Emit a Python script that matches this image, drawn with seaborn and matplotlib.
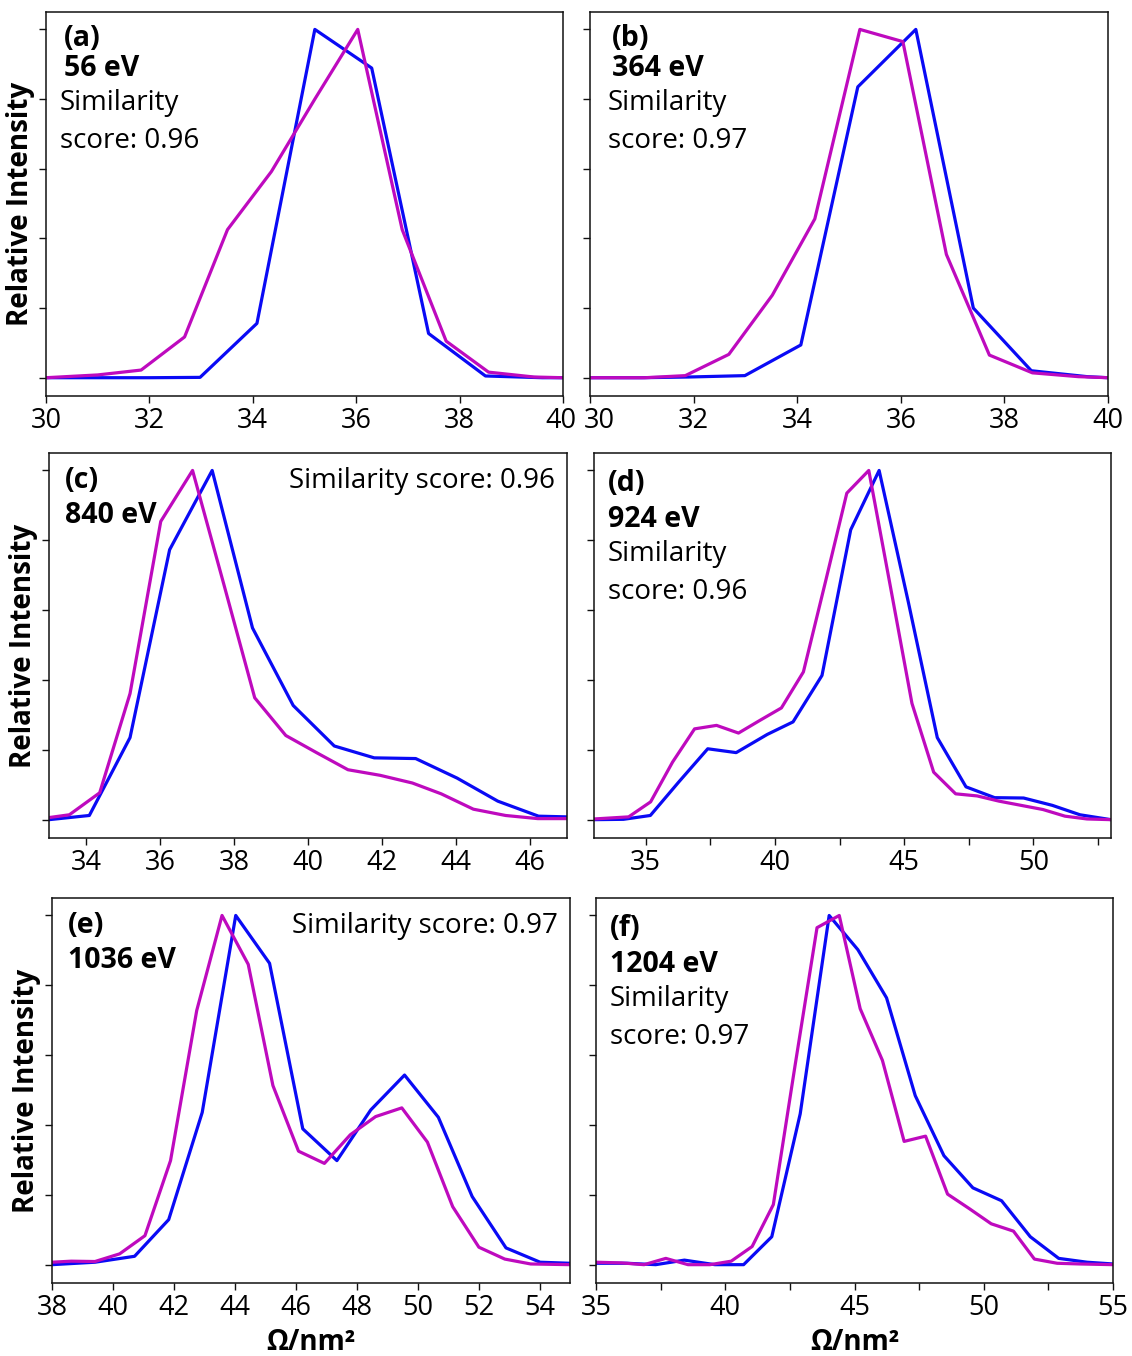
import numpy as np
import pandas as pd
import matplotlib
matplotlib.use("Agg")
import matplotlib.pyplot as plt
import matplotlib.transforms as mtransforms
import seaborn as sns

# ---------------- data ----------------
a_blue_x = [30, 31, 32, 32.98, 34.08, 35.2, 36.3, 37.4, 38.5, 39.6, 40]
a_blue_y = [0, 0, 0, 0.001, 0.156, 1.0, 0.889, 0.127, 0.005, 0.0, 0]
a_mag_x = [30, 31.0, 31.84, 32.68, 33.51, 34.36, 35.2, 36.03, 36.89, 37.74, 38.56, 39.44, 40]
a_mag_y = [0, 0.008, 0.022, 0.117, 0.425, 0.592, 0.80, 1.0, 0.425, 0.105, 0.016, 0.002, 0]

b_blue_x = [30, 31.0, 31.9, 32.99, 34.07, 35.17, 36.29, 37.4, 38.52, 39.6, 40]
b_blue_y = [0, 0, 0.002, 0.006, 0.094, 0.835, 1.0, 0.2, 0.02, 0.003, 0]
b_mag_x = [30, 31.06, 31.84, 32.68, 33.52, 34.34, 35.21, 36.04, 36.88, 37.71, 38.54, 39.43, 40]
b_mag_y = [0, 0, 0.006, 0.067, 0.237, 0.456, 1.0, 0.965, 0.354, 0.065, 0.014, 0.003, 0]

c_blue_x = [33, 34.09, 35.19, 36.26, 37.41, 38.5, 39.6, 40.71, 41.79, 42.91, 44.03, 45.13, 46.23, 47]
c_blue_y = [0, 0.012, 0.235, 0.773, 1.0, 0.549, 0.327, 0.211, 0.177, 0.175, 0.119, 0.053, 0.010, 0.008]
c_mag_x = [33, 33.55, 34.37, 35.19, 36.02, 36.88, 37.72, 38.56, 39.4, 40.23, 41.08, 41.95,
           42.82, 43.6, 44.47, 45.34, 46.21, 47]
c_mag_y = [0.006, 0.014, 0.077, 0.361, 0.854, 1.0, 0.676, 0.349, 0.241, 0.192, 0.143, 0.127,
           0.105, 0.074, 0.030, 0.012, 0.003, 0.003]

d_blue_x = [33, 34.14, 35.18, 36.28, 37.4, 38.5, 39.7, 40.7, 41.82, 42.93, 44.03, 45.16,
            46.28, 47.39, 48.5, 49.62, 50.73, 51.8, 53]
d_blue_y = [0, 0.001, 0.012, 0.108, 0.203, 0.192, 0.244, 0.28, 0.413, 0.83, 1.0, 0.623,
            0.235, 0.094, 0.063, 0.062, 0.041, 0.014, 0]
d_mag_x = [33, 34.34, 35.19, 36.04, 36.89, 37.74, 38.59, 39.41, 40.25, 41.1, 41.95, 42.78,
           43.63, 44.47, 45.3, 46.14, 46.99, 47.82, 48.67, 49.52, 50.37, 51.22, 52.07, 53]
d_mag_y = [0.002, 0.008, 0.051, 0.165, 0.26, 0.27, 0.248, 0.284, 0.32, 0.423, 0.68, 0.935,
           1.0, 0.666, 0.333, 0.136, 0.074, 0.068, 0.053, 0.041, 0.029, 0.01, 0.002, 0]

e_blue_x = [38, 39.41, 40.71, 41.83, 42.93, 44.03, 45.14, 46.23, 47.35, 48.46, 49.57, 50.68,
            51.79, 52.9, 54.02, 55]
e_blue_y = [0, 0.007, 0.024, 0.129, 0.436, 1.0, 0.863, 0.389, 0.298, 0.443, 0.543, 0.422,
            0.195, 0.048, 0.007, 0.004]
e_mag_x = [38, 38.63, 39.41, 40.22, 41.05, 41.89, 42.75, 43.58, 44.44, 45.25, 46.09, 46.94,
           47.79, 48.62, 49.48, 50.32, 51.15, 52.01, 52.86, 53.71, 55]
e_mag_y = [0.007, 0.01, 0.009, 0.031, 0.083, 0.298, 0.728, 1.0, 0.86, 0.513, 0.325, 0.29,
           0.372, 0.424, 0.449, 0.351, 0.166, 0.05, 0.016, 0.002, 0]

f_blue_x = [35, 36.2, 37.31, 38.42, 39.6, 40.71, 41.8, 42.9, 44.02, 45.13, 46.24, 47.35,
            48.46, 49.58, 50.69, 51.8, 52.9, 54.0, 55]
f_blue_y = [0.004, 0.004, 0, 0.013, 0, 0, 0.08, 0.432, 1.0, 0.902, 0.764, 0.484,
            0.312, 0.22, 0.183, 0.08, 0.018, 0.007, 0.002]
f_mag_x = [35, 36.0, 36.86, 37.7, 38.56, 39.41, 40.23, 41.04, 41.86, 42.7, 43.55, 44.41,
           45.22, 46.08, 46.92, 47.75, 48.6, 49.45, 50.29, 51.15, 51.96, 52.84, 53.72, 55]
f_mag_y = [0.007, 0.005, 0, 0.018, 0, 0, 0.01, 0.052, 0.172, 0.57, 0.965, 1.0,
           0.733, 0.585, 0.353, 0.368, 0.202, 0.16, 0.117, 0.096, 0.016, 0.004, 0.002, 0]

panel_labels = ["(a)", "(b)", "(c)", "(d)", "(e)", "(f)"]
energies = ["56 eV", "364 eV", "840 eV", "924 eV", "1036 eV", "1204 eV"]
scores = ["0.96", "0.97", "0.96", "0.96", "0.97", "0.97"]
xlims = [(30, 40), (30, 40), (33, 47), (33, 53), (38, 55), (35, 55)]
xticks_list = [list(range(30, 41, 2)), list(range(30, 41, 2)), list(range(34, 47, 2)),
               list(np.arange(35, 53, 2.5)), list(range(38, 55, 2)), list(np.arange(35, 55.1, 2.5))]
y_ticks = [0, 0.2, 0.4, 0.6, 0.8, 1.0]
x_label = "Ω/nm²"
y_label = "Relative Intensity"

series = [
    (a_blue_x, a_blue_y, a_mag_x, a_mag_y),
    (b_blue_x, b_blue_y, b_mag_x, b_mag_y),
    (c_blue_x, c_blue_y, c_mag_x, c_mag_y),
    (d_blue_x, d_blue_y, d_mag_x, d_mag_y),
    (e_blue_x, e_blue_y, e_mag_x, e_mag_y),
    (f_blue_x, f_blue_y, f_mag_x, f_mag_y),
]

# ---------------- style ----------------
sns.set_theme(style="ticks")
plt.rcParams["font.family"] = ["Open Sans", "DejaVu Sans"]
plt.rcParams["axes.edgecolor"] = "#111111"
plt.rcParams["axes.linewidth"] = 1.1
plt.rcParams["text.color"] = "black"
plt.rcParams["axes.labelcolor"] = "black"
plt.rcParams["xtick.color"] = "#111111"
plt.rcParams["ytick.color"] = "#111111"
plt.rcParams["xtick.labelcolor"] = "black"

BLUE = "#0A0AF5"
MAG = "#BE0ABE"
palette = {"exp": BLUE, "sim": MAG}

W, H = 1132, 1356
fig = plt.figure(figsize=(W / 100, H / 100), dpi=100)

# pixel boxes: left, right, top, bottom
boxes = [
    (46, 563, 12, 396), (590, 1108, 12, 396),
    (49, 567, 453, 838), (594, 1111, 453, 838),
    (52, 570, 898, 1283), (596, 1113, 898, 1283),
]

FS = 19.5      # tick labels
FT = 20.0      # annotation text
FB = 20.5      # bold annotation
axes = []
for i, (bx, by, mx, my) in enumerate(series):
    l, r, t, b = boxes[i]
    ax = fig.add_axes([l / W, 1 - b / H, (r - l) / W, (b - t) / H])
    axes.append(ax)
    df = pd.concat([
        pd.DataFrame({"x": bx, "y": by, "s": "exp"}),
        pd.DataFrame({"x": mx, "y": my, "s": "sim"}),
    ], ignore_index=True)
    sns.lineplot(data=df, x="x", y="y", hue="s", palette=palette, estimator=None,
                 sort=False, units="s", legend=False, linewidth=2.3, ax=ax)
    ax.set_xlim(*xlims[i])
    ax.set_ylim(-0.0525, 1.05)
    ax.set_yticks(y_ticks)
    ax.set_yticklabels([])
    ax.set_xticks(xticks_list[i])
    if i in (3, 5):
        ax.set_xticklabels([f"{v:g}" if float(v) % 5 == 0 else "" for v in xticks_list[i]])
    else:
        ax.set_xticklabels([f"{v:g}" for v in xticks_list[i]])
    ax.tick_params(axis="both", direction="out", length=5, width=1.0,
                   labelsize=FS, pad=3)
    ax.set_xlabel("")
    ax.set_ylabel("")
    for sp in ax.spines.values():
        sp.set_visible(True)

    lab = panel_labels[i]
    en = energies[i]
    sc = scores[i]
    if i in (0, 1):
        x0 = 0.035 if i == 0 else 0.042
        ax.text(x0, 0.932, lab, transform=ax.transAxes, fontsize=FB, fontweight="bold",
                va="center", ha="left")
        ax.text(x0, 0.852, en, transform=ax.transAxes, fontsize=FB, fontweight="bold",
                va="center", ha="left")
        ax.text(x0 - 0.008, 0.762, "Similarity", transform=ax.transAxes, fontsize=FT,
                va="center", ha="left")
        ax.text(x0 - 0.008, 0.665, "score: " + sc, transform=ax.transAxes, fontsize=FT,
                va="center", ha="left")
    elif i in (2, 4):
        ax.text(0.03, 0.928, lab, transform=ax.transAxes, fontsize=FB, fontweight="bold",
                va="center", ha="left")
        ax.text(0.03, 0.838, en, transform=ax.transAxes, fontsize=FB, fontweight="bold",
                va="center", ha="left")
        ax.text(0.976, 0.927, "Similarity score: " + sc, transform=ax.transAxes,
                fontsize=FT, va="center", ha="right")
    else:
        ax.text(0.027, 0.92, lab, transform=ax.transAxes, fontsize=FB, fontweight="bold",
                va="center", ha="left")
        ax.text(0.027, 0.826, en, transform=ax.transAxes, fontsize=FB, fontweight="bold",
                va="center", ha="left")
        ax.text(0.027, 0.737, "Similarity", transform=ax.transAxes, fontsize=FT,
                va="center", ha="left")
        ax.text(0.027, 0.640, "score: " + sc, transform=ax.transAxes, fontsize=FT,
                va="center", ha="left")

    if i in (0, 2, 4):
        ax.set_ylabel(y_label, fontsize=FT, fontweight="bold", labelpad=0)
    if i in (4, 5):
        ax.set_xlabel(x_label, fontsize=FT, fontweight="bold", labelpad=4)

# nudge the touching "40" | "30" labels between panels (a) and (b) apart
fig.canvas.draw()
lbl_a = axes[0].get_xticklabels()[-1]
lbl_b = axes[1].get_xticklabels()[0]
lbl_a.set_transform(lbl_a.get_transform() +
                    mtransforms.ScaledTranslation(-2 / 100, 0, fig.dpi_scale_trans))
lbl_b.set_transform(lbl_b.get_transform() +
                    mtransforms.ScaledTranslation(9 / 100, 0, fig.dpi_scale_trans))

fig.savefig("out.png", dpi=100)
